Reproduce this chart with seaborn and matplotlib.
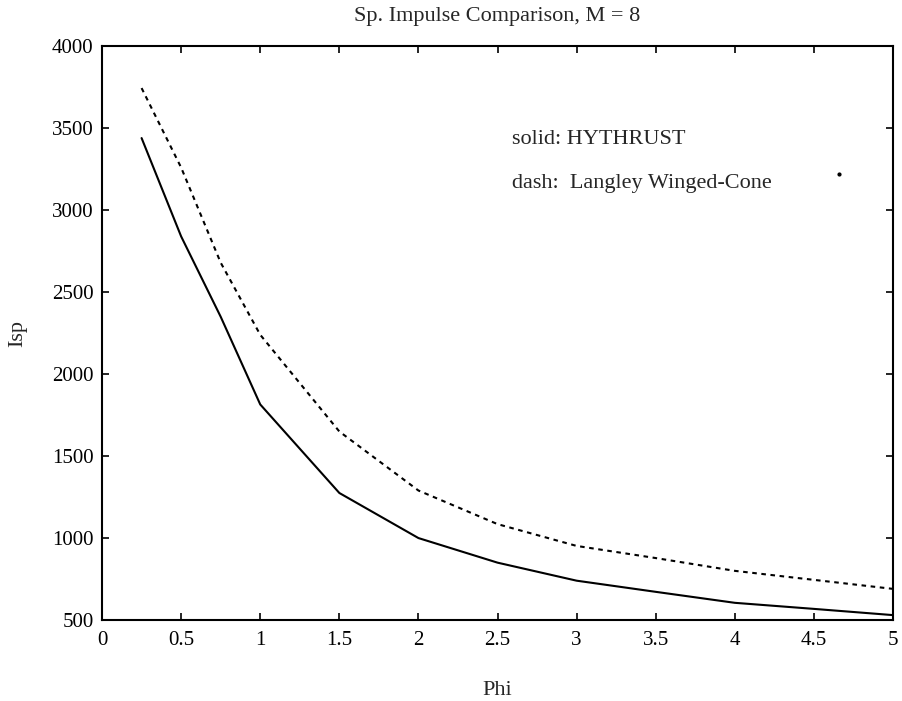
import matplotlib
matplotlib.use("Agg")
import matplotlib.pyplot as plt
import seaborn as sns
import pandas as pd

# Equivalence ratio sweep
phi = [0.25, 0.5, 0.75, 1.0, 1.5, 2.0, 2.5, 3.0, 3.5, 4.0, 4.5, 5.0]
# Specific impulse (s)
isp_hythrust = [3440, 2840, 2350, 1815, 1275, 1000, 850, 740, 672, 605, 568, 530]
isp_winged_cone = [3745, 3260, 2680, 2240, 1650, 1290, 1085, 952, 878, 800, 745, 690]

title = "Sp. Impulse Comparison, M = 8"
xlabel = "Phi"
ylabel = "Isp"
note_solid = "solid: HYTHRUST"
note_dash = "dash:  Langley Winged-Cone"

sns.set_style("ticks")
plt.rcParams["font.family"] = ["Liberation Serif", "DejaVu Serif"]

df = pd.DataFrame({
    "Phi": phi * 2,
    "Isp": isp_hythrust + isp_winged_cone,
    "source": ["HYTHRUST"] * len(phi) + ["Langley Winged-Cone"] * len(phi),
})

fig = plt.figure(figsize=(9.03, 7.01), dpi=100)
ax = fig.add_axes([0.113, 0.1155, 0.876, 0.8185])

sns.lineplot(data=df[df.source == "HYTHRUST"], x="Phi", y="Isp",
             color="black", linewidth=1.5, ax=ax, legend=False)
sns.lineplot(data=df[df.source == "Langley Winged-Cone"], x="Phi", y="Isp",
             color="black", linewidth=1.5, ax=ax, legend=False,
             dashes=False, linestyle=(0, (2.2, 2.2)))

ax.set_xlim(0, 5)
ax.set_ylim(500, 4000)
ax.set_xticks([0, 0.5, 1, 1.5, 2, 2.5, 3, 3.5, 4, 4.5, 5])
ax.set_xticklabels(["0", "0.5", "1", "1.5", "2", "2.5", "3", "3.5", "4", "4.5", "5"])
ax.set_yticks(range(500, 4001, 500))

ax.tick_params(direction="in", length=5, width=1.2, top=True, right=True,
               labelsize=15, colors="black")
ax.tick_params(axis="x", pad=8)
ax.tick_params(axis="y", pad=6)
for s in ax.spines.values():
    s.set_visible(True)
    s.set_linewidth(1.5)
    s.set_color("black")

ax.set_title(title, fontsize=16, pad=18)
ax.set_xlabel(xlabel, fontsize=16, labelpad=22)
ax.set_ylabel(ylabel, fontsize=16, labelpad=18)

ax.text(2.59, 3430, note_solid, fontsize=16, va="center", ha="left")
ax.text(2.59, 3160, note_dash, fontsize=16, va="center", ha="left")
ax.plot([4.66], [3220], marker="o", markersize=2, color="black")

fig.savefig("out.png", dpi=100)
